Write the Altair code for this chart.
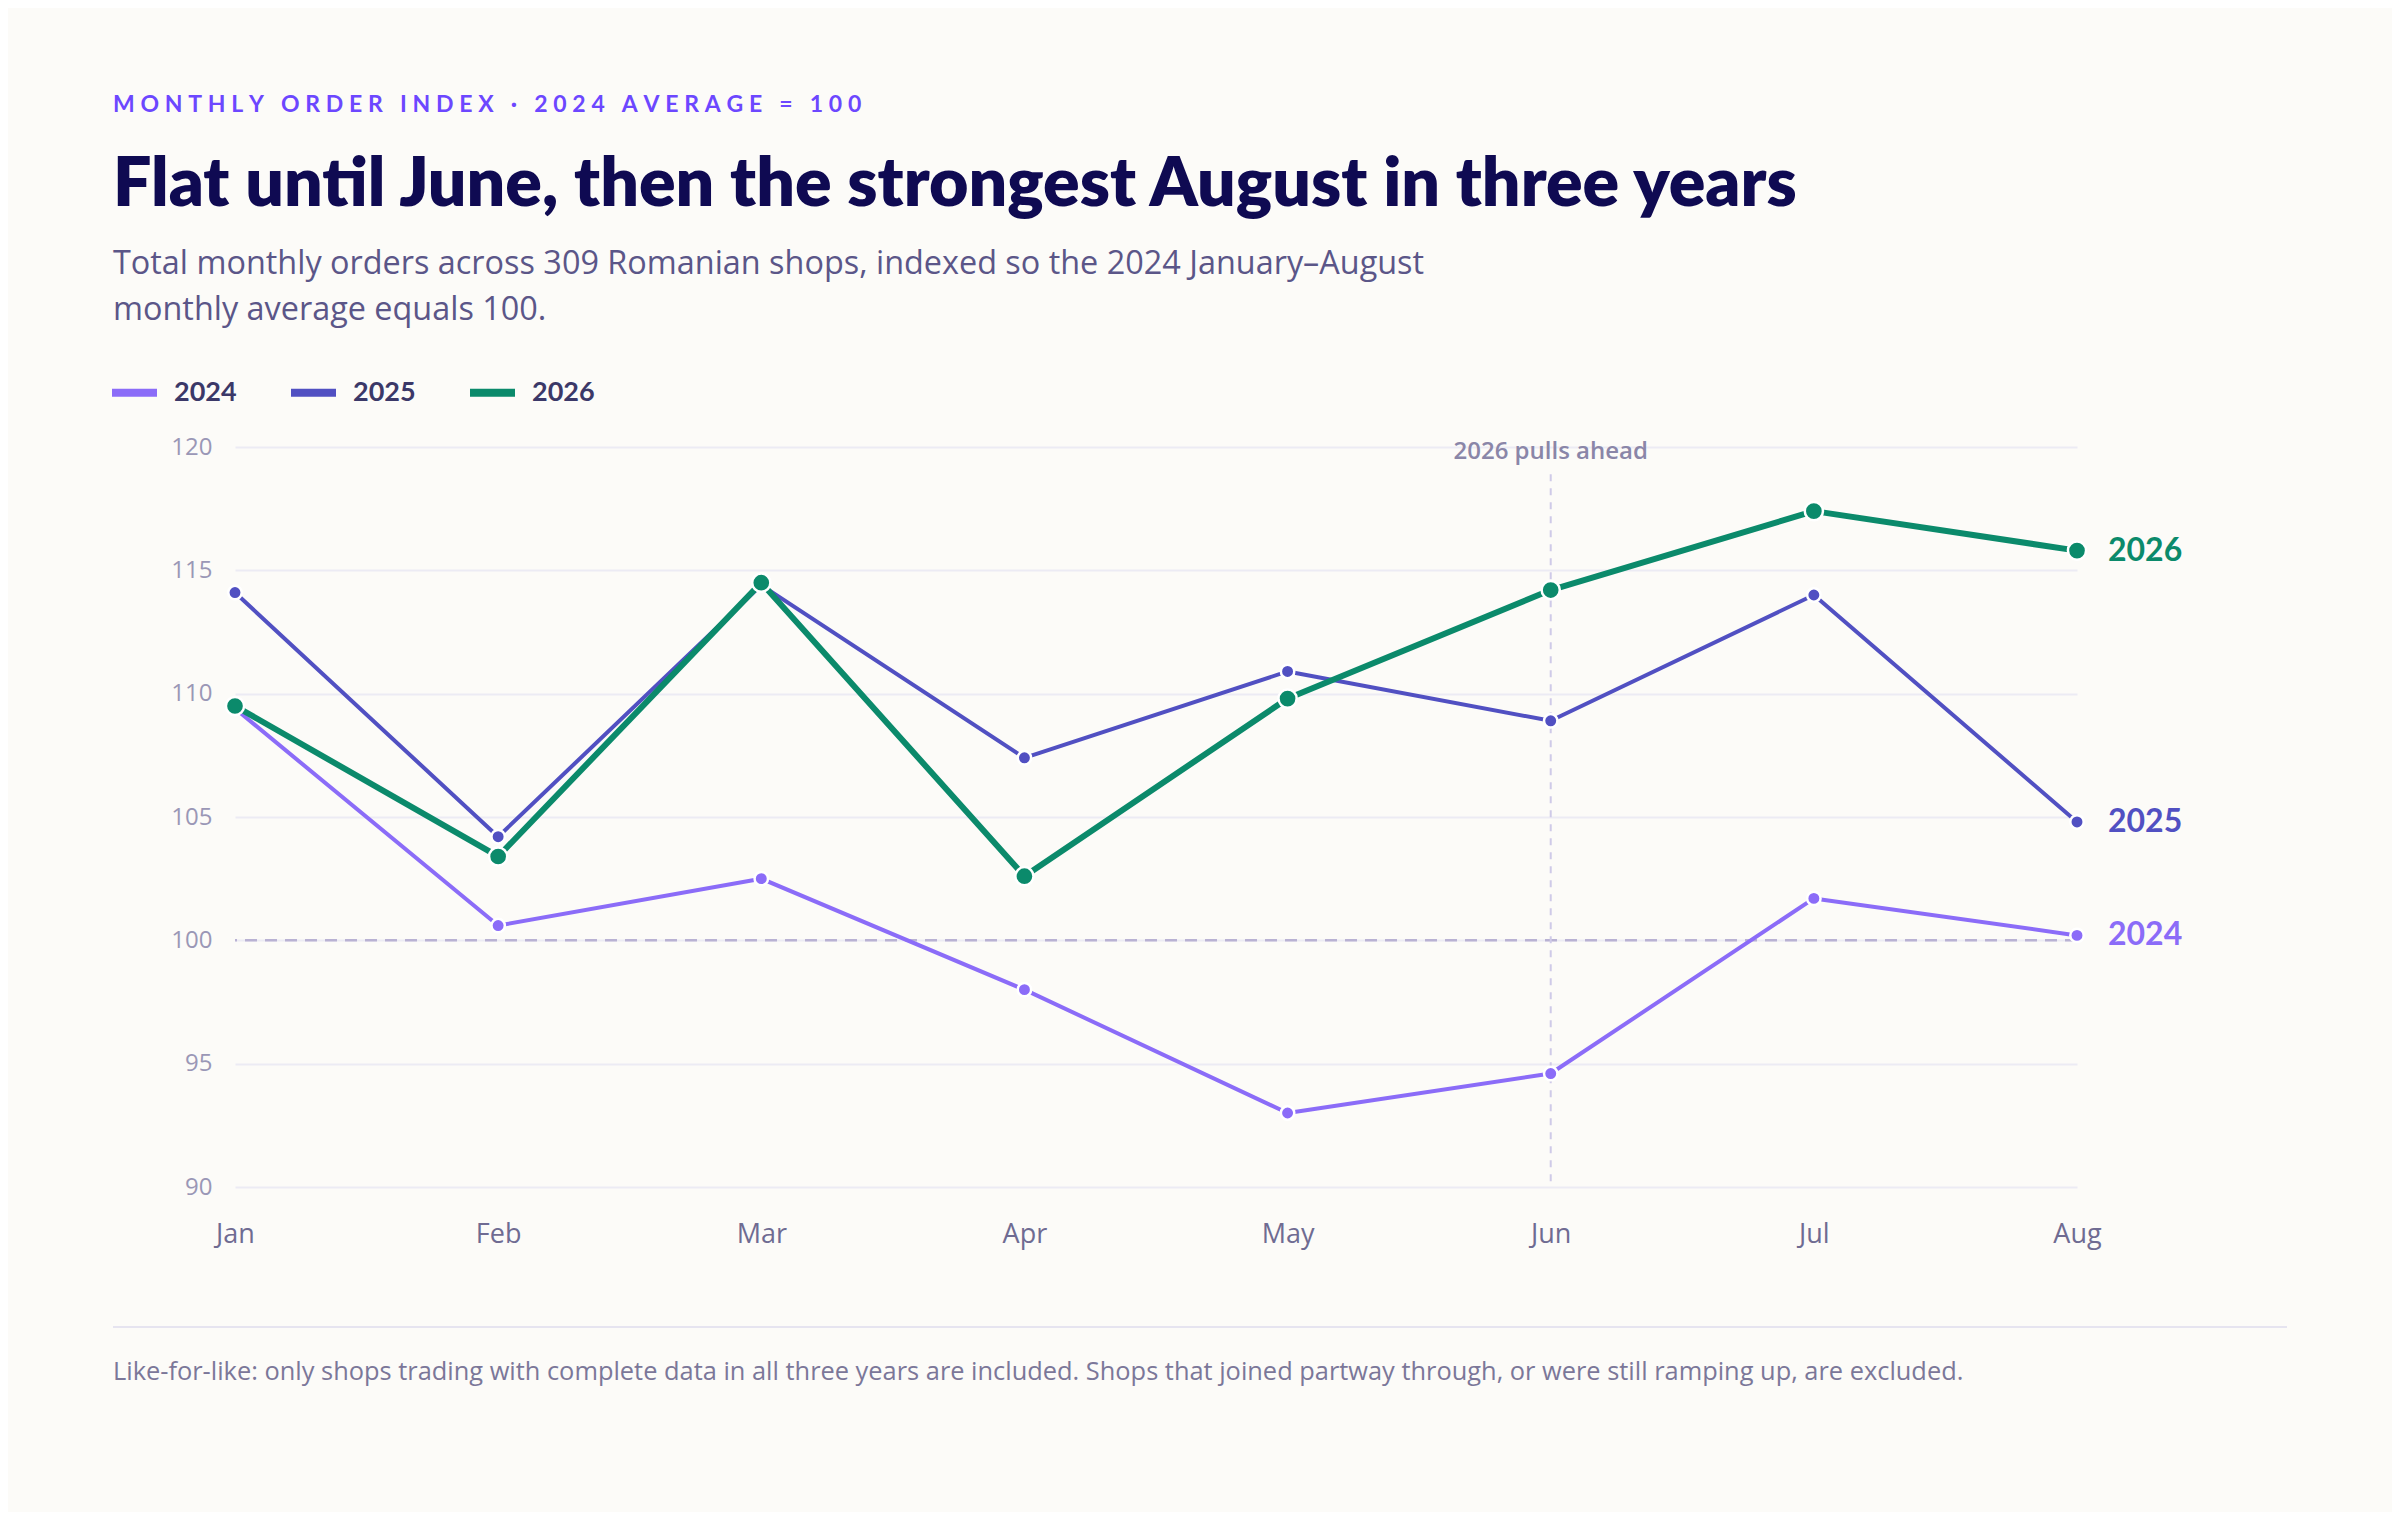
import altair as alt
import pandas as pd

# ---------------- data ----------------
months = ["Jan", "Feb", "Mar", "Apr", "May", "Jun", "Jul", "Aug"]
years = ["2024", "2025", "2026"]
idx_2024 = [109.4, 100.6, 102.5, 98.0, 93.0, 94.6, 101.7, 100.2]
idx_2025 = [114.1, 104.2, 114.4, 107.4, 110.9, 108.9, 114.0, 104.8]
idx_2026 = [109.5, 103.4, 114.5, 102.6, 109.8, 114.2, 117.4, 115.8]
y_ticks = [90, 95, 100, 105, 110, 115, 120]
baseline_value = 100
annot_month = "Jun"
annot_text = "2026 pulls ahead"
annot_top = 118.9

eyebrow = "MONTHLY ORDER INDEX · 2024 AVERAGE = 100"
title = "Flat until June, then the strongest August in three years"
subtitle = ("Total monthly orders across 309 Romanian shops, indexed so the 2024 January\u2013August\n"
            "monthly average equals 100.")
footer = ("Like-for-like: only shops trading with complete data in all three years are included. "
          "Shops that joined partway through, or were still ramping up, are excluded.")

# ---------------- style ----------------
colors = ["#8b6cf8", "#5150c2", "#0b8a6b"]
BG = "#fcfbf8"
W, H = 1842, 740

rows = []
for yr, vals in zip(years, [idx_2024, idx_2025, idx_2026]):
    for m, v in zip(months, vals):
        rows.append({"year": yr, "month": m, "value": v})
df = pd.DataFrame(rows)
df_last = df[df["month"] == months[-1]]

xenc = alt.X("month:O", sort=months,
             scale=alt.Scale(type="point", domain=months, padding=0),
             axis=alt.Axis(title=None, labelAngle=0, labelAlign="center", domain=False,
                           ticks=False, tickSize=0, grid=False, labelPadding=47,
                           labelFont="Open Sans", labelFontSize=27, labelColor="#6f6b92"))
yscale = alt.Scale(domain=[90, 120], nice=False, zero=False)
yenc = alt.Y("value:Q", scale=yscale,
             axis=alt.Axis(title=None, values=y_ticks, domain=False, ticks=False, tickSize=0,
                           grid=True, gridColor="#ecebf4", gridWidth=2,
                           labelPadding=23, labelFont="Open Sans", labelFontSize=24,
                           labelColor="#9a97b6"))
xsimple = alt.X("month:O", sort=months)
ysimple = alt.Y("value:Q", scale=yscale)

# reference line at 100
ref = alt.Chart(pd.DataFrame({"v": [baseline_value]})).mark_rule(
    color="#b9b2d3", strokeWidth=2.5, strokeDash=[12, 8]
).encode(y=alt.Y("v:Q", scale=yscale))

# Jun annotation rule + label
annot_rule = alt.Chart(pd.DataFrame({"month": [annot_month], "y1": [annot_top], "y2": [90]})).mark_rule(
    color="#cfcae8", strokeWidth=2, strokeDash=[7, 7]
).encode(x=xsimple, y=alt.Y("y1:Q", scale=yscale), y2="y2:Q")

annot_label = alt.Chart(pd.DataFrame({"month": [annot_month], "yv": [120], "t": [annot_text]})).mark_text(
    font="Open Sans", fontSize=24, fontWeight=600, color="#8a86a8", baseline="middle", dy=5
).encode(x=xsimple, y=alt.Y("yv:Q", scale=yscale), text="t:N")

lines_all = alt.Chart(df).mark_line(strokeWidth=4, strokeCap="round", strokeJoin="round").encode(
    x=xenc, y=yenc,
    stroke=alt.Stroke("year:N", scale=alt.Scale(domain=years, range=colors),
                      legend=alt.Legend(orient="none", legendX=-127, legendY=-81,
                                        direction="horizontal", title=None,
                                        symbolType="stroke", symbolSize=2025,
                                        symbolStrokeWidth=8, symbolOpacity=1,
                                        labelFont="Lato", labelFontSize=27, labelFontWeight="bold",
                                        labelColor="#3b3868", labelOffset=13, columnPadding=38)),
)

line_26 = alt.Chart(df).transform_filter(alt.datum.year == years[2]).mark_line(
    strokeWidth=6, strokeCap="round", strokeJoin="round", color=colors[2]
).encode(x=xsimple, y=ysimple)

points_all = alt.Chart(df).mark_circle(size=180, opacity=1, stroke="#ffffff", strokeWidth=2.5).encode(
    x=xsimple, y=ysimple,
    fill=alt.Fill("year:N", scale=alt.Scale(domain=years, range=colors), legend=None),
)

points_26 = alt.Chart(df).transform_filter(alt.datum.year == years[2]).mark_circle(
    size=330, opacity=1, stroke="#ffffff", strokeWidth=2.5, color=colors[2]
).encode(x=xsimple, y=ysimple)

end_labels = alt.Chart(df_last).mark_text(
    align="left", baseline="middle", dx=31, font="Lato", fontSize=32, fontWeight="bold"
).encode(
    x=xsimple, y=ysimple,
    text="year:N",
    color=alt.Color("year:N", scale=alt.Scale(domain=years, range=colors), legend=None),
)

spaced_eyebrow = "\u2009\u2009".join(list(eyebrow))

eyebrow_t = alt.Chart(pd.DataFrame({"t": [spaced_eyebrow]})).mark_text(
    x=-122, y=-335, align="left", baseline="alphabetic", font="Lato", fontSize=23,
    fontWeight="bold", color="#6c47ff"
).encode(text="t:N")

title_t = alt.Chart(pd.DataFrame({"t": [title]})).mark_text(
    x=-122, y=-241, align="left", baseline="alphabetic", font="Lato", fontSize=68,
    fontWeight=800, color="#0f0a52"
).encode(text="t:N")

subtitle_t = alt.Chart(pd.DataFrame({"t": [subtitle]})).mark_text(
    x=-122, y=-173, align="left", baseline="alphabetic", font="Open Sans", fontSize=32.4,
    color="#5b5688", lineBreak="\n", lineHeight=46
).encode(text="t:N")

footer_rule = alt.Chart(pd.DataFrame({"k": [0]})).mark_rule(color="#e6e4f0", strokeWidth=2).encode(
    x=alt.value(-122), x2=alt.value(2052), y=alt.value(880)
)

footer_t = alt.Chart(pd.DataFrame({"t": [footer]})).mark_text(
    x=-122, y=933, align="left", baseline="alphabetic", font="Open Sans", fontSize=25.4,
    color="#7b7799"
).encode(text="t:N")

chart = alt.layer(
    ref, annot_rule, annot_label, lines_all, line_26, points_all, points_26, end_labels,
    eyebrow_t, title_t, subtitle_t, footer_rule, footer_t
).properties(
    width=W, height=H,
    padding={"left": 227, "top": 439, "right": 315, "bottom": 325},
    autosize=alt.AutoSizeParams(type="none"),
    background=BG,
).configure_view(stroke=None)

chart.save("out.html", embed_options={"renderer": "svg", "actions": False})
